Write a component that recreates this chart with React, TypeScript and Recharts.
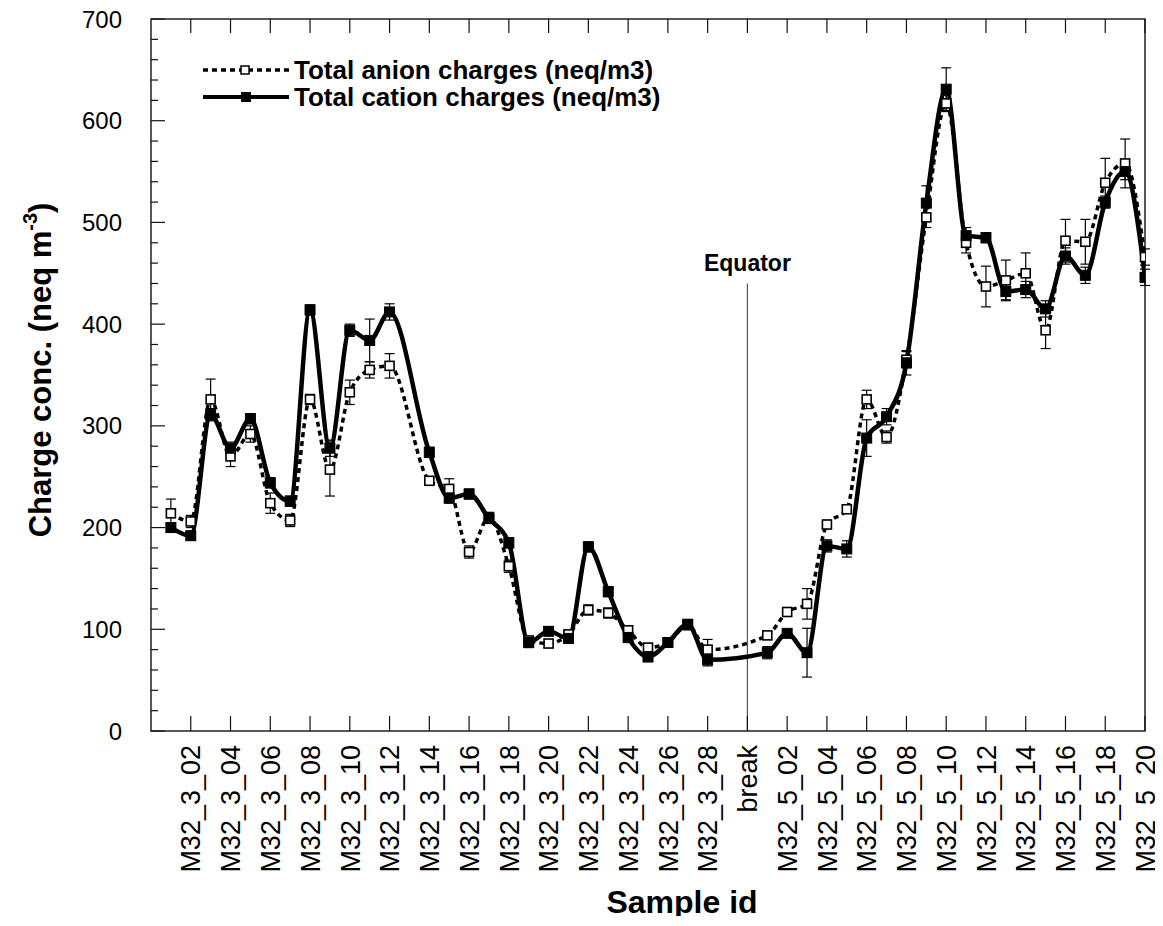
import { ErrorBar, Label, Legend, Line, LineChart, ReferenceArea, ReferenceLine, XAxis, YAxis } from 'recharts';

const SAMPLE_IDS = [
  'M32_3_01', 'M32_3_02', 'M32_3_03', 'M32_3_04', 'M32_3_05', 'M32_3_06', 'M32_3_07', 'M32_3_08', 'M32_3_09', 'M32_3_10',
  'M32_3_11', 'M32_3_12', 'M32_3_13', 'M32_3_14', 'M32_3_15', 'M32_3_16', 'M32_3_17', 'M32_3_18', 'M32_3_19', 'M32_3_20',
  'M32_3_21', 'M32_3_22', 'M32_3_23', 'M32_3_24', 'M32_3_25', 'M32_3_26', 'M32_3_27', 'M32_3_28', 'M32_3_29', 'break',
  'M32_5_01', 'M32_5_02', 'M32_5_03', 'M32_5_04', 'M32_5_05', 'M32_5_06', 'M32_5_07', 'M32_5_08', 'M32_5_09', 'M32_5_10',
  'M32_5_11', 'M32_5_12', 'M32_5_13', 'M32_5_14', 'M32_5_15', 'M32_5_16', 'M32_5_17', 'M32_5_18', 'M32_5_19', 'M32_5_20',
];

// neq/m3, null = no sample
const ANION = [
  214, 206, 326, 270, 292, 224, 207, 326, 257, 333,
  355, 359, null, 246, 238, 176, 210, 162, 89, 86,
  95, 119, 116, 99, 82, 87, 104, 80, null, null,
  94, 117, 125, 203, 218, 326, 289, 365, 505, 617,
  480, 437, 443, 450, 394, 482, 481, 539, 558, 466,
];
const ANION_ERR = [
  14, 6, 20, 10, 8, 10, 6, 5, 26, 12,
  8, 12, 0, 4, 10, 6, 5, 6, 4, 4,
  4, 5, 5, 4, 4, 4, 3, 10, 0, 0,
  4, 4, 15, 4, 4, 9, 6, 8, 10, 8,
  10, 20, 20, 20, 18, 21, 22, 24, 24, 8,
];
const CATION = [
  200, 192, 311, 278, 307, 244, 226, 414, 278, 394,
  384, 412, null, 274, 229, 233, 209, 185, 87, 98,
  91, 181, 137, 92, 73, 87, 105, 70, null, null,
  77, 96, 77, 182, 179, 288, 309, 362, 519, 631,
  487, 485, 432, 434, 415, 467, 448, 520, 550, 446,
];
const CATION_ERR = [
  4, 4, 6, 6, 5, 5, 5, 5, 8, 6,
  21, 8, 0, 5, 5, 5, 5, 5, 5, 4,
  4, 5, 5, 5, 5, 4, 4, 6, 0, 0,
  6, 4, 24, 6, 8, 18, 8, 12, 17, 21,
  8, 5, 8, 8, 8, 8, 8, 6, 8, 8,
];

const EQUATOR_AT = 29; // the "break" slot
const X_TICKS = SAMPLE_IDS.map((_, i) => i).filter((i) => i % 2 === 1);
const Y_TICKS = Array.from({ length: 36 }, (_, i) => i * 20);

const FONT = '"Liberation Sans", Arial, Helvetica, sans-serif';
const PLOT_TOP = 19;

const data = SAMPLE_IDS.map((id, i) => ({
  idx: i,
  id,
  anion: ANION[i],
  anionErr: ANION_ERR[i],
  cation: CATION[i],
  cationErr: CATION_ERR[i],
}));

function XTick({ x, y, payload }: any) {
  const label = SAMPLE_IDS[payload.value] ?? '';
  const ty = y + 14;
  return (
    <g>
      <line x1={x} y1={y} x2={x} y2={y - 15} stroke="#111" strokeWidth={1.2} />
      <line x1={x} y1={PLOT_TOP} x2={x} y2={PLOT_TOP + 14} stroke="#111" strokeWidth={1.2} />
      <text
        x={x}
        y={ty}
        dy="0.36em"
        transform={`rotate(-90 ${x} ${ty})`}
        textAnchor="end"
        fontFamily={FONT}
        fontSize={27}
        fill="#000"
      >
        {label}
      </text>
    </g>
  );
}

function YTick({ x, y, payload }: any) {
  const major = payload.value % 100 === 0;
  return (
    <g>
      <line x1={x} y1={y} x2={x + (major ? 14 : 7)} y2={y} stroke="#111" strokeWidth={1.2} />
      {major && (
        <text x={x - 29} y={y} dy="0.36em" textAnchor="end" fontFamily={FONT} fontSize={24} fill="#000">
          {payload.value}
        </text>
      )}
    </g>
  );
}

function YTitle() {
  const cx = 40;
  const cy = 370;
  return (
    <text
      x={cx}
      y={cy}
      transform={`rotate(-90 ${cx} ${cy})`}
      textAnchor="middle"
      dy="0.36em"
      fontFamily={FONT}
      fontWeight="bold"
      fontSize={31}
      fill="#000"
    >
      <tspan>Charge conc. (neq m</tspan>
      <tspan fontSize={20} dy={-14}>-3</tspan>
      <tspan dy={14}>)</tspan>
    </text>
  );
}

function XTitle() {
  return (
    <text x={682} y={901} dy="0.36em" textAnchor="middle" fontFamily={FONT} fontWeight="bold" fontSize={32} fill="#000">
      Sample id
    </text>
  );
}

function anionDot(props: any) {
  const { cx, cy, index } = props;
  if (cx == null || cy == null || props.value == null) return <g key={`a-${index}`} />;
  return <rect key={`a-${index}`} x={cx - 4.5} y={cy - 4.5} width={9} height={9} fill="#fff" stroke="#000" strokeWidth={1.6} />;
}

function cationDot(props: any) {
  const { cx, cy, index } = props;
  if (cx == null || cy == null || props.value == null) return <g key={`c-${index}`} />;
  return <rect key={`c-${index}`} x={cx - 5} y={cy - 5} width={10} height={10} fill="#000" stroke="#000" strokeWidth={1} />;
}

function LegendBox() {
  const rows = [
    { label: 'Total anion charges (neq/m3)', dash: '5 4', open: true },
    { label: 'Total cation charges (neq/m3)', dash: undefined, open: false },
  ];
  return (
    <svg width={560} height={60} style={{ display: 'block' }}>
      {rows.map((r, i) => {
        const y = 14 + i * 27;
        return (
          <g key={r.label}>
            <line x1={0} y1={y} x2={86} y2={y} stroke="#000" strokeWidth={r.open ? 3.5 : 4} strokeDasharray={r.dash} />
            {r.open ? (
              <rect x={38} y={y - 4} width={8} height={8} fill="#fff" stroke="#000" strokeWidth={1.5} />
            ) : (
              <rect x={38} y={y - 5} width={10} height={10} fill="#000" />
            )}
            <text x={91} y={y} dy="0.36em" fontFamily={FONT} fontWeight="bold" fontSize={26} fill="#000">
              {r.label}
            </text>
          </g>
        );
      })}
    </svg>
  );
}

export default function App() {
  return (
    <div style={{ width: 1160, height: 924, margin: -8, background: '#fff' }}>
      <LineChart width={1160} height={924} data={data} margin={{ top: PLOT_TOP, right: 15, left: 91, bottom: 43 }}>
        <XAxis
          dataKey="idx"
          type="number"
          domain={[-1, 49]}
          ticks={X_TICKS}
          interval={0}
          allowDataOverflow
          axisLine={false}
          tickLine={false}
          tickSize={0}
          tickMargin={0}
          height={150}
          tick={<XTick />}
        >
          <Label content={<XTitle />} />
        </XAxis>
        <YAxis
          type="number"
          domain={[0, 700]}
          ticks={Y_TICKS}
          interval={0}
          allowDataOverflow
          axisLine={false}
          tickLine={false}
          tickSize={0}
          tickMargin={0}
          width={60}
          tick={<YTick />}
        >
          <Label content={<YTitle />} />
        </YAxis>
        <ReferenceArea x1={-1} x2={49} y1={0} y2={700} fill="none" stroke="#222" strokeWidth={1.5} />
        <ReferenceLine
          segment={[{ x: EQUATOR_AT, y: 0 }, { x: EQUATOR_AT, y: 440 }]}
          stroke="#555"
          strokeWidth={1.2}
          label={{ value: 'Equator', position: 'top', offset: 12, fontFamily: FONT, fontWeight: 'bold', fontSize: 23, fill: '#000' }}
        />
        <Legend
          layout="horizontal"
          verticalAlign="middle"
          align="center"
          content={() => <LegendBox />}
          wrapperStyle={{ left: 203, top: 56, width: 560, height: 60 }}
        />
        <Line
          dataKey="anion"
          name="Total anion charges (neq/m3)"
          type="monotone"
          stroke="#000"
          strokeWidth={3.5}
          strokeDasharray="5 4"
          connectNulls
          dot={anionDot}
          activeDot={false}
          isAnimationActive={false}
        >
          <ErrorBar dataKey="anionErr" direction="y" width={5} stroke="#000" strokeWidth={1.2} isAnimationActive={false} />
        </Line>
        <Line
          dataKey="cation"
          name="Total cation charges (neq/m3)"
          type="monotone"
          stroke="#000"
          strokeWidth={4.5}
          connectNulls
          dot={cationDot}
          activeDot={false}
          isAnimationActive={false}
        >
          <ErrorBar dataKey="cationErr" direction="y" width={5} stroke="#000" strokeWidth={1.2} isAnimationActive={false} />
        </Line>
      </LineChart>
    </div>
  );
}
